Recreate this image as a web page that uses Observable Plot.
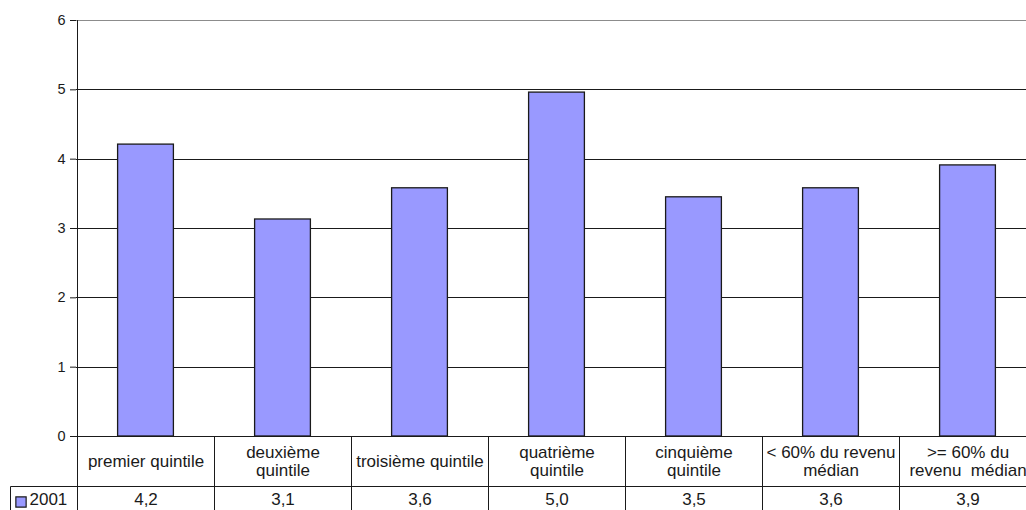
<!DOCTYPE html>
<html>
<head>
<meta charset="utf-8">
<script src="https://cdn.jsdelivr.net/npm/d3@7"></script>
<script src="https://cdn.jsdelivr.net/npm/@observablehq/plot@0.6"></script>
<style>
  html, body { margin: 0; padding: 0; background: #fff; overflow: hidden; }
  #chart svg { display: block; }
</style>
</head>
<body>
<div id="chart"></div>
<script>
// ---- data ----
const categories = [
  "premier quintile",
  "deuxième\nquintile",
  "troisième quintile",
  "quatrième\nquintile",
  "cinquième\nquintile",
  "< 60% du revenu\nmédian",
  ">= 60% du\nrevenu  médian"
];
const values2001 = [4.21, 3.13, 3.58, 4.96, 3.45, 3.58, 3.91];
const tableLabels = ["4,2", "3,1", "3,6", "5,0", "3,5", "3,6", "3,9"];
const seriesName = "2001";
const yTicks = [0, 1, 2, 3, 4, 5, 6];

const rows = categories.map((c, i) => ({category: c, value: values2001[i], label: tableLabels[i]}));

const barFill = "#9999ff";
const ink = "#1a1a1a";

// table grid lines and axis line, drawn from Plot's own scales
function tableGrid(index, scales, values, dimensions) {
  const {x, y} = scales;
  const step = x.step ? x.step() : x.bandwidth();
  const y0 = y(0);
  const rowLine = Math.round(y0 + 50) + 0.5;
  const bottom = dimensions.height;
  const g = d3.create("svg:g")
    .attr("stroke", ink)
    .attr("stroke-width", 1)
    .attr("fill", "none");
  const x0 = Math.round(x(x.domain()[0])) + 0.5;
  g.append("line").attr("x1", x0).attr("x2", x0).attr("y1", y(6)).attr("y2", bottom);
  x.domain().forEach(c => {
    const xe = Math.round(x(c) + step) + 0.5;
    g.append("line").attr("x1", xe).attr("x2", xe).attr("y1", y0).attr("y2", bottom);
  });
  g.append("line").attr("x1", 10.5).attr("x2", dimensions.width + 20).attr("y1", rowLine).attr("y2", rowLine);
  g.append("line").attr("x1", 10.5).attr("x2", 10.5).attr("y1", rowLine).attr("y2", bottom);
  return g.node();
}

const chart = Plot.plot({
  width: 1026,
  height: 510,
  marginTop: 20,
  marginBottom: 74,
  marginLeft: 76,
  marginRight: 0,
  style: {fontFamily: "'Liberation Sans', Arial, sans-serif", fontSize: "17px", color: ink, background: "#fff"},
  x: {type: "band", domain: categories, range: [76, 1037], padding: 0, axis: null},
  y: {domain: [0, 6], axis: null},
  marks: [
    Plot.ruleY(yTicks.filter(t => t > 0 && t < 6), {stroke: ink, strokeWidth: 1, shapeRendering: "crispEdges"}),
    Plot.ruleY([6], {stroke: "#8c8c8c", strokeWidth: 1.5, shapeRendering: "crispEdges"}),
    Plot.ruleY([0], {stroke: ink, strokeWidth: 1, shapeRendering: "crispEdges"}),
    Plot.barY(rows, {x: "category", y: "value", fill: barFill, stroke: ink, strokeWidth: 1.3, insetLeft: 40.6, insetRight: 40.6}),
    Plot.axisY({ticks: yTicks, tickSize: 6, tickPadding: 5, fontSize: 14.5, label: null, tickFormat: d => String(d)}),
    tableGrid,
    Plot.text(rows, {x: "category", text: "category", frameAnchor: "bottom", dy: 25, lineAnchor: "middle", lineHeight: 1.07, fontSize: 17, fill: ink}),
    Plot.text(rows, {x: "category", text: "label", frameAnchor: "bottom", dy: 63.5, lineAnchor: "middle", fontSize: 17, fill: ink}),
    Plot.dot([seriesName], {frameAnchor: "bottom-left", dx: -55.5, dy: 65.5, symbol: "square", r: 5.8, fill: barFill, stroke: ink, strokeWidth: 1.2}),
    Plot.text([seriesName], {text: d => d, frameAnchor: "bottom-left", dx: -47, dy: 63.5, textAnchor: "start", lineAnchor: "middle", fontSize: 17, fill: ink})
  ]
});
document.getElementById("chart").appendChild(chart);
</script>
</body>
</html>
